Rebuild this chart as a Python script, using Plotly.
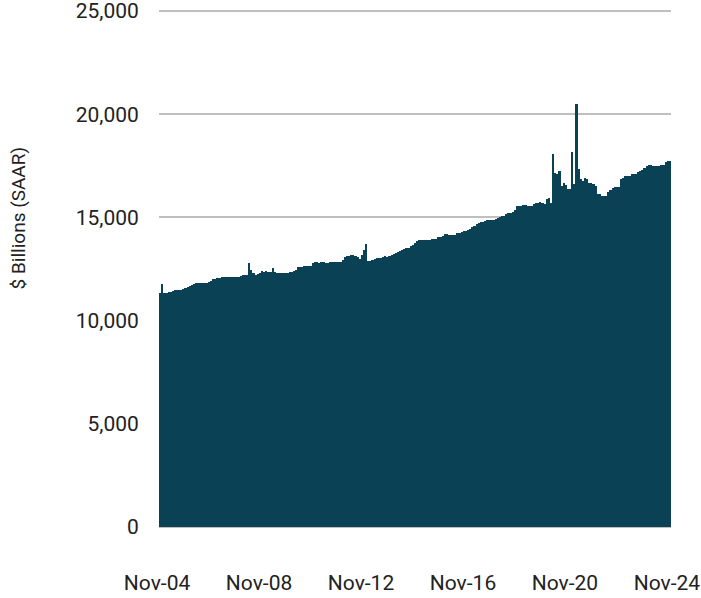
import pandas as pd
import plotly.graph_objects as go

# Monthly values, Nov-04 .. Nov-24, $ billions SAAR
values = [
    11325, 11760, 11325, 11330, 11370, 11370, 11420, 11470, 11470, 11470, 11470, 11520,
    11570, 11620, 11665, 11710, 11760, 11810, 11810, 11805, 11810, 11810, 11815, 11860,
    11900, 12000, 12000, 12050, 12050, 12100, 12100, 12095, 12100, 12100, 12105, 12100,
    12100, 12100, 12160, 12230, 12230, 12230, 12770, 12430, 12310, 12230, 12260, 12330,
    12410, 12380, 12410, 12340, 12360, 12555, 12340, 12310, 12290, 12290, 12290, 12290,
    12310, 12340, 12380, 12410, 12475, 12610, 12610, 12610, 12670, 12670, 12670, 12670,
    12770, 12850, 12850, 12790, 12820, 12850, 12780, 12780, 12830, 12860, 12860, 12860,
    12860, 12860, 12960, 13060, 13120, 13120, 13200, 13200, 13150, 13070, 13000, 13170,
    13400, 13690, 12900, 12880, 12940, 13000, 13020, 13020, 13020, 13060, 13110, 13080,
    13130, 13190, 13240, 13300, 13340, 13390, 13440, 13470, 13500, 13540, 13600, 13660,
    13760, 13840, 13900, 13890, 13900, 13900, 13900, 13910, 13950, 13950, 13980, 14040,
    14040, 14100, 14210, 14210, 14160, 14160, 14160, 14160, 14230, 14230, 14290, 14340,
    14340, 14390, 14450, 14540, 14600, 14680, 14730, 14760, 14760, 14820, 14860, 14860,
    14880, 14900, 14920, 14970, 15030, 15060, 15090, 15150, 15200, 15230, 15260, 15340,
    15540, 15540, 15540, 15590, 15590, 15560, 15540, 15570, 15670, 15720, 15720, 15750,
    15700, 15650, 15900, 15930, 15720, 18060, 17140, 17090, 17240, 16540, 16660, 16560,
    16380, 16400, 18150, 16640, 20480, 17340, 16840, 16790, 16890, 16840, 16660, 16660,
    16610, 16540, 16160, 16160, 16060, 16060, 16030, 16240, 16350, 16430, 16460, 16460,
    16500, 16850, 16900, 17000, 17000, 17030, 17090, 17090, 17120, 17190, 17240, 17290,
    17420, 17480, 17530, 17530, 17510, 17510, 17510, 17510, 17560, 17560, 17680, 17730,
    17730,
]

months = pd.date_range("2004-11-01", periods=len(values), freq="MS").strftime("%b-%y").tolist()
tick_labels = ["Nov-04", "Nov-08", "Nov-12", "Nov-16", "Nov-20", "Nov-24"]
y_ticks = [0, 5000, 10000, 15000, 20000, 25000]

fig = go.Figure(go.Bar(
    x=months,
    y=values,
    marker=dict(color="#0A4155", line=dict(width=0)),
))

font_family = "Roboto"

fig.update_layout(
    width=701,
    height=598,
    margin=dict(l=159, r=30, t=8, b=71),
    plot_bgcolor="white",
    paper_bgcolor="white",
    bargap=0,
    showlegend=False,
    font=dict(family=font_family, size=21, color="#222222"),
    xaxis=dict(
        type="category",
        tickmode="array",
        tickvals=tick_labels,
        ticktext=tick_labels,
        tickangle=0,
        ticks="outside",
        ticklen=37,
        tickcolor="rgba(0,0,0,0)",
        ticklabelshift=-3,
        showgrid=False,
        showline=False,
        zeroline=False,
        automargin=False,
        ticklabeloverflow="allow",
    ),
    yaxis=dict(
        range=[0, 25150],
        tickvals=y_ticks,
        tickformat=",",
        ticks="outside",
        ticklen=15,
        tickcolor="rgba(0,0,0,0)",
        showgrid=True,
        gridcolor="#BFBFBF",
        gridwidth=2,
        zeroline=True,
        zerolinecolor="#BFBFBF",
        zerolinewidth=2,
        showline=False,
        automargin=False,
        ticklabeloverflow="allow",
    ),
)

# y axis title placed as in the original (sits above the axis middle)
fig.add_annotation(
    text="$ Billions (SAAR)",
    xref="paper", yref="paper",
    x=-0.275, y=0.595,
    xanchor="center", yanchor="middle",
    textangle=-90,
    showarrow=False,
    font=dict(family=font_family, size=19, color="#222222"),
)

# drop the default page margin so the figure sits at the window's corner
fig.write_html(
    "out.html",
    config={"displayModeBar": False},
    post_script="document.body.style.margin='0';document.body.style.overflow='hidden';",
)
